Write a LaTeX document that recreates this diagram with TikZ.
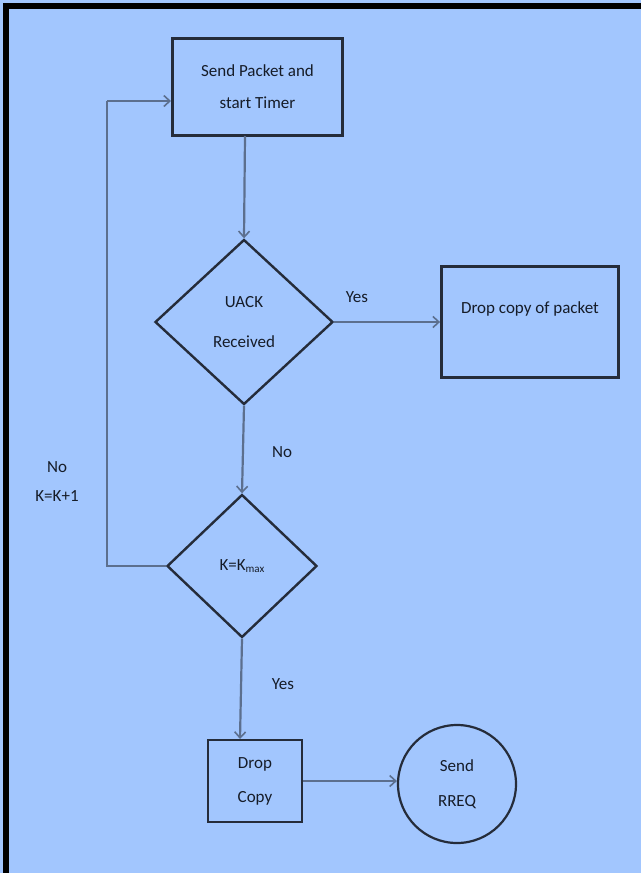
\documentclass[tikz,border=0pt]{standalone}
\usepackage{fontspec}
\setmainfont{Carlito}
\usetikzlibrary{shapes.geometric,arrows.meta}
\definecolor{bgblue}{HTML}{A2C6FE}
\definecolor{shapeline}{HTML}{252C3A}
\definecolor{connline}{HTML}{5C6F8E}
\definecolor{txt}{HTML}{161C28}
\begin{document}
\begin{tikzpicture}[x=1pt,y=-1pt,
  every node/.style={text=txt,font=\fontsize{17}{32}\selectfont},
  boxnode/.style={draw=shapeline,line width=2.8pt,inner sep=0pt,align=center},
  dia/.style={draw=shapeline,line width=2.4pt,diamond,inner sep=0pt,align=center},
  conn/.style={draw=connline,line width=2.2pt},
  arr/.style={conn,-{Straight Barb[length=6pt,width=11pt,line width=1.6pt]}},
  lbl/.style={inner sep=0pt}]
\useasboundingbox (0,0) rectangle (641,873);
\fill[bgblue] (0,0) rectangle (641,873);
\fill[black] (3,3) rectangle (9,873);
\fill[black] (3,3) rectangle (641,9);
\node[boxnode,minimum width=170pt,minimum height=97pt] (send) at (257.5,87) {Send Packet and\\start Timer};
\node[dia,minimum width=178pt,minimum height=165pt,font=\fontsize{17}{40}\selectfont] (uack) at (244,322) {UACK\\Received};
\node[boxnode,minimum width=177pt,minimum height=111pt,text depth=28pt] (dropp) at (530,322) {Drop copy of packet};
\node[dia,minimum width=150pt,minimum height=143pt] (kmax) at (242,566) {K=K\raisebox{-0.25ex}{\fontsize{11}{12}\selectfont max}};
\node[boxnode,minimum width=94pt,minimum height=82pt,font=\fontsize{17}{34}\selectfont] (dropc) at (255,781) {Drop\\Copy};
\node[draw=shapeline,line width=2.2pt,circle,minimum size=118pt,inner sep=0pt,align=center,font=\fontsize{17}{35}\selectfont] (rreq) at (457,784) {Send\\RREQ};
\coordinate (sendb) at (245,136);
\coordinate (loopa) at (107,568);
\coordinate (loopb) at (107,101);
\coordinate (sendl) at (171,101);
\coordinate (dcTop) at (240,739);
\node[lbl] (yes1) at (357,297) {Yes};
\node[lbl] (no1) at (282,452) {No};
\node[lbl] (yes2) at (283,684) {Yes};
\node[lbl,align=center,font=\fontsize{17}{29}\selectfont] (nok) at (57,482) {No\\K=K+1};
\draw[arr] (sendb) -- (uack.north);
\draw[arr] (uack.east) -- (dropp.west|-uack.east);
\draw[arr] (uack.south) -- (kmax.north);
\draw[conn] (kmax.west) -- (kmax.west-|loopa) -- (loopb);
\draw[arr] (loopb) -- (sendl);
\draw[arr] (kmax.south) -- (dcTop);
\draw[arr] (dropc.east) -- (rreq.west|-dropc.east);
\end{tikzpicture}
\end{document}
